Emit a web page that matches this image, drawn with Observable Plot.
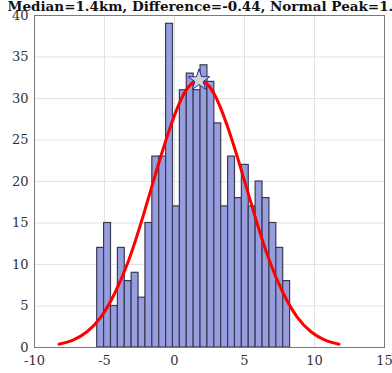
<!DOCTYPE html>
<html>
<head>
<meta charset="utf-8">
<script src="https://cdn.jsdelivr.net/npm/d3@7"></script>
<script src="https://cdn.jsdelivr.net/npm/@observablehq/plot@0.6"></script>
<style>
  html, body { margin: 0; padding: 0; background: white; }
</style>
</head>
<body>
<div id="chart"></div>
<script>
// Histogram: bin edges start and width, counts per bin
const binStart = -5.52;
const binWidth = 0.492;
const counts = [12, 15, 5, 12, 8, 9, 6, 15, 23, 23, 39, 17, 31, 33, 31, 34, 32, 27, 17, 23, 18, 22, 17, 20, 18, 15, 12, 8];

// Fitted normal curve
const curveX = [-8.25, -7.25, -6.25, -5.25, -4.25, -3.25, -2.25, -1.25, -0.25, 0.75, 1.75, 2.75, 3.75, 4.75, 5.75, 6.75, 7.75, 8.75, 9.75, 10.75, 11.75];
const curveY = [0.4, 0.9, 1.9, 3.7, 6.6, 10.6, 15.8, 21.5, 26.8, 30.8, 32.2, 30.8, 26.8, 21.5, 15.8, 10.6, 6.6, 3.7, 1.9, 0.9, 0.4];

// Peak marker
const peakX = [1.75];
const peakY = [32.2];

const xTicks = [-10, -5, 0, 5, 10, 15];
const yTicks = [0, 5, 10, 15, 20, 25, 30, 35, 40];
const title = "Median=1.4km, Difference=-0.44, Normal Peak=1.8km";

const bars = counts.map((c, i) => ({x1: binStart + i * binWidth, x2: binStart + (i + 1) * binWidth, count: c}));
const curve = curveX.map((x, i) => ({x, y: curveY[i]}));
const peak = peakX.map((x, i) => ({x, y: peakY[i]}));

const chart = Plot.plot({
  width: 392,
  height: 373,
  marginLeft: 34,
  marginRight: 8,
  marginTop: 15,
  marginBottom: 26,
  x: {domain: [-10, 15], ticks: xTicks},
  y: {domain: [0, 40], ticks: yTicks},
  style: {fontFamily: "'DejaVu Serif', serif", fontSize: "13px", color: "#333", background: "white"},
  marks: [
    Plot.gridX(xTicks, {stroke: "#e3e3e3", strokeOpacity: 1}),
    Plot.gridY(yTicks, {stroke: "#e3e3e3", strokeOpacity: 1}),
    Plot.rectY(bars, {x1: "x1", x2: "x2", y: "count", fill: "#979ee0", stroke: "#3a3a4e", strokeWidth: 1.2}),
    Plot.line(curve, {x: "x", y: "y", stroke: "#ff0000", strokeWidth: 3, curve: "natural"}),
    Plot.dot(peak, {x: "x", y: "y", symbol: "star", r: 6.8, fill: "#d2d2d2", stroke: "#2b2ba0", strokeWidth: 1}),
    Plot.frame({stroke: "#7a7a7a", strokeWidth: 1}),
    Plot.axisX(xTicks, {anchor: "bottom", tickSize: 0, tickPadding: 8, fontSize: 13, fill: "#333", tickFormat: d => String(d)}),
    Plot.axisY(yTicks, {anchor: "left", tickSize: 0, tickPadding: 6, fontSize: 13, fill: "#333", tickFormat: d => String(d)}),
    Plot.text([title], {frameAnchor: "top-left", dx: -27, dy: -5, textAnchor: "start", lineAnchor: "bottom", fontWeight: "bold", fontSize: 13.5, fill: "#111"})
  ]
});
document.getElementById("chart").appendChild(chart);
</script>
</body>
</html>
